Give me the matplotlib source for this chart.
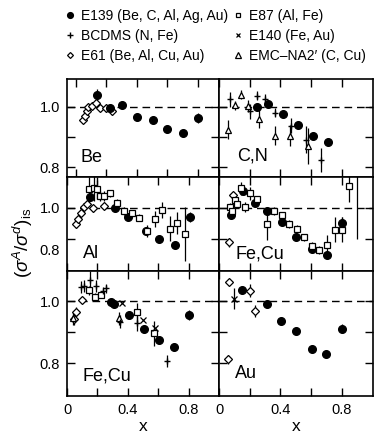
import matplotlib
matplotlib.use("Agg")
import matplotlib.pyplot as plt
from matplotlib.lines import Line2D

plt.rcParams["font.family"] = ["Liberation Sans", "DejaVu Sans"]
plt.rcParams["mathtext.fontset"] = "custom"
plt.rcParams["mathtext.rm"] = "Liberation Sans"
plt.rcParams["mathtext.it"] = "Liberation Sans:italic"

# ---- Be ----
be_e139_x = [0.14, 0.225, 0.305, 0.40, 0.505, 0.60, 0.705, 0.80]
be_e139_y = [1.041, 0.995, 1.005, 0.967, 0.957, 0.928, 0.913, 0.963]
be_e139_err = [0.02, 0.012, 0.008, 0.0, 0.0, 0.0, 0.0, 0.016]
be_e61_x = [0.047, 0.062, 0.073, 0.084, 0.11, 0.134, 0.161, 0.198, 0.237]
be_e61_y = [0.956, 0.969, 0.986, 1.0, 1.002, 1.013, 0.995, 0.995, 0.988]
be_e61_err = [0.008, 0.008, 0.008, 0.008, 0.008, 0.01, 0.01, 0.012, 0.015]

# ---- C,N ----
cn_e139_x = [0.248, 0.316, 0.419, 0.517, 0.611, 0.71]
cn_e139_y = [1.0, 1.011, 0.977, 0.941, 0.905, 0.883]
cn_bcdms_x = [0.071, 0.20, 0.248, 0.299, 0.365, 0.466, 0.568, 0.662]
cn_bcdms_y = [1.025, 0.986, 1.038, 1.027, 0.98, 0.938, 0.891, 0.822]
cn_bcdms_err = [0.025, 0.025, 0.015, 0.015, 0.015, 0.025, 0.045, 0.04]
cn_emc_x = [0.056, 0.107, 0.145, 0.188, 0.263, 0.363, 0.462, 0.577]
cn_emc_y = [0.925, 1.005, 1.041, 1.002, 0.96, 0.905, 0.905, 0.869]
cn_emc_err = [0.03, 0.015, 0.015, 0.02, 0.03, 0.03, 0.035, 0.06]

# ---- Al ----
al_e139_x = [0.154, 0.317, 0.404, 0.52, 0.607, 0.709, 0.812]
al_e139_y = [1.035, 0.999, 0.971, 0.926, 0.901, 0.883, 0.971]
al_e139_err = [0.01, 0.0, 0.0, 0.0, 0.0, 0.0, 0.015]
al_e87_x = [0.143, 0.175, 0.197, 0.219, 0.241, 0.28, 0.332, 0.376,
            0.426, 0.476, 0.524, 0.578, 0.626, 0.676, 0.724, 0.775]
al_e87_y = [1.059, 1.062, 1.059, 1.037, 1.037, 1.046, 1.016, 0.99,
            0.982, 0.969, 0.926, 0.965, 0.992, 0.933, 0.952, 0.917]
al_e87_err = [0.04, 0.04, 0.03, 0.015, 0.015, 0.012, 0.012, 0.012,
              0.012, 0.012, 0.02, 0.025, 0.025, 0.04, 0.035, 0.087]
al_e61_x = [0.056, 0.071, 0.09, 0.11, 0.13, 0.171, 0.241]
al_e61_y = [0.947, 0.965, 0.985, 1.003, 1.012, 0.998, 1.005]
al_e61_err = [0.01, 0.01, 0.01, 0.01, 0.01, 0.01, 0.01]

# ---- Fe,Cu (right) ----
fe2_e87_x = [0.071, 0.085, 0.107, 0.12, 0.145, 0.167, 0.205, 0.248, 0.312,
             0.359, 0.412, 0.455, 0.508, 0.556, 0.605, 0.654, 0.705, 0.754,
             0.803, 0.85, 0.897]
fe2_e87_y = [1.002, 0.99, 1.025, 1.012, 1.062, 1.003, 1.046, 1.027, 0.947,
             0.989, 0.976, 0.949, 0.933, 0.906, 0.879, 0.866, 0.882, 0.93,
             0.93, 1.068, 1.15]
fe2_e87_err = [0.012, 0.012, 0.012, 0.012, 0.02, 0.015, 0.02, 0.012, 0.05,
               0.012, 0.012, 0.012, 0.012, 0.012, 0.012, 0.012, 0.03, 0.04,
               0.04, 0.05, 0.25]
fe2_e139_x = [0.081, 0.156, 0.235, 0.312, 0.412, 0.504, 0.605, 0.705, 0.803]
fe2_e139_y = [0.976, 1.052, 1.014, 0.989, 0.955, 0.908, 0.869, 0.85, 0.952]
fe2_e139_err = [0.0, 0.01, 0.0, 0.0, 0.0, 0.0, 0.0, 0.0, 0.02]
fe2_e61_x = [0.064, 0.092]
fe2_e61_y = [0.89, 1.041]
fe2_e61_err = [0.015, 0.01]

# ---- Fe,Cu (left bottom) ----
fe3_bcdms_x = [0.093, 0.114, 0.149, 0.193, 0.237, 0.258, 0.35, 0.459, 0.655]
fe3_bcdms_y = [1.046, 1.049, 1.067, 1.049, 1.032, 1.041, 0.934, 0.928, 0.806]
fe3_bcdms_err = [0.02, 0.02, 0.03, 0.02, 0.015, 0.015, 0.02, 0.025, 0.02]
fe3_e61_x = [0.044, 0.062, 0.099]
fe3_e61_y = [0.942, 0.966, 1.003]
fe3_e61_err = [0.02, 0.015, 0.01]
fe3_e87_x = [0.143, 0.186, 0.223, 0.459, 0.572]
fe3_e87_y = [1.035, 1.014, 1.021, 0.964, 0.896]
fe3_e87_err = [0.015, 0.012, 0.012, 0.03, 0.04]
fe3_e140_x = [0.361, 0.502, 0.578]
fe3_e140_y = [0.993, 0.939, 0.913]
fe3_e139_x = [0.289, 0.306, 0.41, 0.507, 0.607, 0.703, 0.803]
fe3_e139_y = [0.998, 0.99, 0.955, 0.91, 0.875, 0.852, 0.955]
fe3_e139_err = [0.0, 0.0, 0.0, 0.0, 0.0, 0.0, 0.015]
fe3_emc_x = [0.04, 0.34]
fe3_emc_y = [0.944, 0.944]
fe3_emc_err = [0.02, 0.02]

# ---- Au ----
au_e139_x = [0.152, 0.312, 0.404, 0.504, 0.605, 0.697, 0.799]
au_e139_y = [1.037, 0.99, 0.936, 0.904, 0.847, 0.829, 0.911]
au_e139_err = [0.01, 0.0, 0.0, 0.0, 0.0, 0.0, 0.015]
au_e61_x = [0.056, 0.066, 0.200, 0.237]
au_e61_y = [0.812, 1.061, 1.034, 0.968]
au_e61_err = [0.015, 0.01, 0.02, 0.02]
au_e140_x = [0.098]
au_e140_y = [1.008]
au_e140_err = [0.035]

legend_labels = ["E139 (Be, C, Al, Ag, Au)", "BCDMS (N, Fe)", "E61 (Be, Al, Cu, Au)",
                 "E87 (Al, Fe)", "E140 (Fe, Au)", "EMC\u2013NA2\u2032 (C, Cu)"]

STYLE = {
    "e139": dict(marker="o", mfc="black", mec="black", ms=5.5),
    "bcdms": dict(marker="+", mfc="black", mec="black", ms=5, mew=1),
    "e61": dict(marker="D", mfc="white", mec="black", ms=4, mew=0.9),
    "e87": dict(marker="s", mfc="white", mec="black", ms=4.5, mew=0.9),
    "e140": dict(marker="x", mfc="black", mec="black", ms=4, mew=0.9),
    "emc": dict(marker="^", mfc="white", mec="black", ms=5, mew=0.9),
}


def draw(ax, kind, x, y, err=None):
    ax.errorbar(x, y, yerr=err, ls="none", ecolor="black", elinewidth=0.9,
                capsize=0, zorder=3, **STYLE[kind])


fig = plt.figure(figsize=(3.74, 4.37), dpi=100)

lx, lw = 67 / 374, 152 / 374
rx, rw = 219 / 374, 153.5 / 374
rows = [(1 - 177 / 437, 98 / 437, (0.767, 1.093), [0.8, 0.9, 1.0]),
        (1 - 271.3 / 437, 94.3 / 437, (0.798, 1.098), [0.9, 1.0]),
        (1 - 395.7 / 437, 124.4 / 437, (0.695, 1.096), [0.8, 0.9, 1.0])]

axes = []
for r, (y0, h, ylim, yt) in enumerate(rows):
    for c, (x0, w) in enumerate([(lx, lw), (rx, rw)]):
        ax = fig.add_axes([x0, y0, w, h])
        ax.set_ylim(*ylim)
        ax.set_xlim(0, 1)
        ax.axhline(1.0, color="black", lw=1, ls=(0, (5.5, 3.5)), zorder=1)
        ax.set_xticks([0, 0.2, 0.4, 0.6, 0.8])
        if r == 2:
            ax.set_xticklabels(["0", "", "0.4", "", "0.8"])
        else:
            ax.set_xticklabels([])
        ax.set_yticks(yt)
        if c == 0:
            ax.set_yticklabels(["" if t == 0.9 else f"{t:.1f}" for t in yt])
        else:
            ax.set_yticklabels([])
        ax.tick_params(direction="in", top=True, right=True, length=6,
                       width=1, pad=5, labelsize=10.5)
        for s in ax.spines.values():
            s.set_linewidth(1.2)
        axes.append(ax)

ax_be, ax_cn, ax_al, ax_fe2, ax_fe3, ax_au = axes
# the Be panel in the source is drawn with a slightly shifted x scale
ax_be.set_xlim(-0.056, 0.94)

draw(ax_be, "e61", be_e61_x, be_e61_y, be_e61_err)
draw(ax_be, "e139", be_e139_x, be_e139_y, be_e139_err)

draw(ax_cn, "emc", cn_emc_x, cn_emc_y, cn_emc_err)
draw(ax_cn, "bcdms", cn_bcdms_x, cn_bcdms_y, cn_bcdms_err)
draw(ax_cn, "e139", cn_e139_x, cn_e139_y)

draw(ax_al, "e61", al_e61_x, al_e61_y, al_e61_err)
draw(ax_al, "e139", al_e139_x, al_e139_y, al_e139_err)
draw(ax_al, "e87", al_e87_x, al_e87_y, al_e87_err)

draw(ax_fe2, "e61", fe2_e61_x, fe2_e61_y, fe2_e61_err)
draw(ax_fe2, "e139", fe2_e139_x, fe2_e139_y, fe2_e139_err)
draw(ax_fe2, "e87", fe2_e87_x, fe2_e87_y, fe2_e87_err)

draw(ax_fe3, "e61", fe3_e61_x, fe3_e61_y, fe3_e61_err)
draw(ax_fe3, "emc", fe3_emc_x, fe3_emc_y, fe3_emc_err)
draw(ax_fe3, "e139", fe3_e139_x, fe3_e139_y, fe3_e139_err)
draw(ax_fe3, "e87", fe3_e87_x, fe3_e87_y, fe3_e87_err)
draw(ax_fe3, "bcdms", fe3_bcdms_x, fe3_bcdms_y, fe3_bcdms_err)
draw(ax_fe3, "e140", fe3_e140_x, fe3_e140_y)

draw(ax_au, "e61", au_e61_x, au_e61_y, au_e61_err)
draw(ax_au, "e139", au_e139_x, au_e139_y, au_e139_err)
draw(ax_au, "e140", au_e140_x, au_e140_y, au_e140_err)

for ax, name, (tx, ty) in [(ax_be, "Be", (0.09, 0.20)), (ax_cn, "C,N", (0.115, 0.21)),
                           (ax_al, "Al", (0.105, 0.185)), (ax_fe2, "Fe,Cu", (0.11, 0.185)),
                           (ax_fe3, "Fe,Cu", (0.103, 0.155)), (ax_au, "Au", (0.103, 0.18))]:
    ax.text(tx, ty, name, transform=ax.transAxes, fontsize=13, ha="left", va="center")

# stray 0.8 label printed beside the Al panel of the source
ax_al.annotate("0.8", xy=(0, 0.21), xycoords="axes fraction",
               xytext=(-5, 0), textcoords="offset points",
               ha="right", va="center", fontsize=10.5,
               annotation_clip=False, clip_on=False, zorder=10)

fig.text(0.062, 1 - 243 / 437, r"$(\sigma^A/\sigma^d)_{\rm is}$", rotation=90,
         fontsize=13.5, ha="center", va="center")
ax_fe3.set_xlabel("x", fontsize=12.5, labelpad=2)
ax_au.set_xlabel("x", fontsize=12.5, labelpad=2)

handles = []
for kind in ["e139", "bcdms", "e61", "e87", "e140", "emc"]:
    st = dict(STYLE[kind])
    st["ms"] = st["ms"] * 0.75
    handles.append(Line2D([], [], ls="none", **st))
fig.legend(handles, legend_labels, ncol=2, loc="upper left",
           bbox_to_anchor=(0.175, 0.979), frameon=False, fontsize=10,
           handlelength=0.6, handletextpad=0.5, columnspacing=0.4,
           labelspacing=0.42, borderpad=0.0, borderaxespad=0.0)

fig.savefig("out.png", dpi=100)
